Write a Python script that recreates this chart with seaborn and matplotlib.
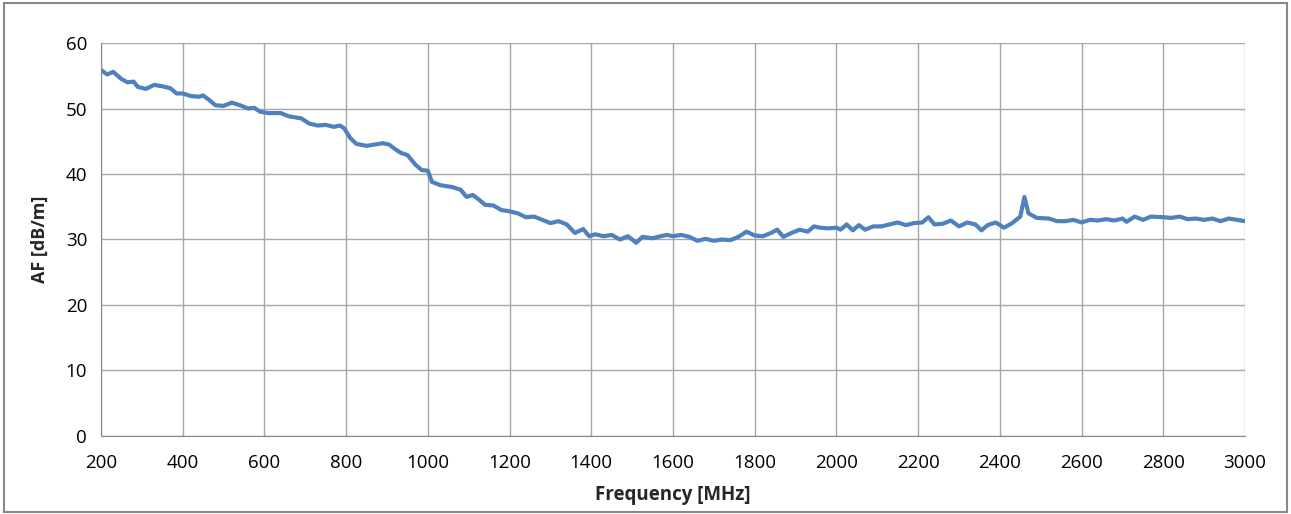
import matplotlib.pyplot as plt
import seaborn as sns
import pandas as pd
from matplotlib.patches import Rectangle

# Antenna factor readings (MHz, dB/m)
freq_mhz = [200, 215, 230, 250, 265, 280, 290, 310, 330, 350, 370, 385, 400, 420, 440, 450,
            465, 480, 500, 520, 540, 560, 575, 590, 610, 640, 660, 690, 710, 730, 750, 770,
            785, 795, 810, 825, 850, 870, 890, 905, 920, 935, 950, 970, 985, 1000, 1010, 1030,
            1060, 1080, 1095, 1110, 1125, 1140, 1160, 1180, 1200, 1220, 1240, 1260, 1280, 1300,
            1320, 1340, 1360, 1380, 1395, 1410, 1430, 1450, 1470, 1490, 1510, 1525, 1550, 1570,
            1585, 1600, 1620, 1640, 1660, 1680, 1700, 1720, 1740, 1760, 1780, 1800, 1820, 1840,
            1855, 1870, 1890, 1910, 1930, 1945, 1960, 1980, 2000, 2010, 2025, 2040, 2055, 2070,
            2090, 2110, 2130, 2150, 2170, 2190, 2210, 2225, 2240, 2260, 2280, 2300, 2320, 2340,
            2355, 2370, 2390, 2410, 2430, 2450, 2460, 2470, 2490, 2520, 2540, 2560, 2580, 2600,
            2620, 2640, 2660, 2680, 2700, 2710, 2730, 2750, 2770, 2800, 2820, 2840, 2860, 2880,
            2900, 2920, 2940, 2960, 2980, 3000]
af_db = [55.9, 55.2, 55.6, 54.5, 54.0, 54.1, 53.3, 53.0, 53.6, 53.4, 53.1, 52.3, 52.3, 51.9, 51.8, 52.0,
         51.3, 50.5, 50.4, 50.9, 50.5, 50.0, 50.1, 49.5, 49.3, 49.3, 48.8, 48.5, 47.7, 47.4, 47.5, 47.2,
         47.4, 47.0, 45.5, 44.6, 44.3, 44.5, 44.7, 44.5, 43.8, 43.2, 42.9, 41.4, 40.6, 40.5, 38.8, 38.3,
         38.0, 37.6, 36.5, 36.8, 36.1, 35.3, 35.2, 34.5, 34.3, 34.0, 33.4, 33.5, 33.0, 32.5,
         32.8, 32.3, 31.0, 31.6, 30.5, 30.8, 30.5, 30.7, 30.0, 30.5, 29.5, 30.4, 30.2, 30.5,
         30.7, 30.5, 30.7, 30.4, 29.8, 30.1, 29.8, 30.0, 29.9, 30.4, 31.2, 30.6, 30.5, 31.0,
         31.5, 30.4, 31.0, 31.5, 31.2, 32.0, 31.8, 31.7, 31.8, 31.5, 32.3, 31.4, 32.2, 31.5,
         32.0, 32.0, 32.3, 32.6, 32.2, 32.5, 32.6, 33.4, 32.3, 32.4, 32.9, 32.0, 32.6, 32.3,
         31.4, 32.2, 32.6, 31.8, 32.5, 33.5, 36.5, 34.0, 33.3, 33.2, 32.8, 32.8, 33.0, 32.6,
         33.0, 32.9, 33.1, 32.9, 33.2, 32.7, 33.5, 33.0, 33.5, 33.4, 33.3, 33.5, 33.1, 33.2,
         33.0, 33.2, 32.8, 33.2, 33.0, 32.8]
x_ticks = list(range(200, 3001, 200))
y_ticks = list(range(0, 61, 10))

df = pd.DataFrame({'freq': freq_mhz, 'af': af_db})

sns.set_style('white')
plt.rcParams['font.family'] = ['Open Sans', 'DejaVu Sans']

fig = plt.figure(figsize=(12.91, 5.14), dpi=100)
ax = fig.add_axes([0.0782, 0.1518, 0.8862, 0.7645])

sns.lineplot(data=df, x='freq', y='af', ax=ax, color='#4F81BD', linewidth=3.0)

ax.set_xlim(200, 3000)
ax.set_ylim(0, 60)
ax.set_xticks(x_ticks)
ax.set_yticks(y_ticks)
ax.grid(True, color='#A6A6A6', linewidth=1.0)
ax.tick_params(axis='both', labelsize=13.5, colors='#000000', length=5,
               width=1, direction='out', pad=5, color='#888888')
ax.tick_params(axis='x', pad=8)
for side in ['top', 'right']:
    ax.spines[side].set_visible(False)
for side in ['left', 'bottom']:
    ax.spines[side].set_color('#888888')
ax.set_xlabel('Frequency [MHz]', fontsize=13.5, fontweight='bold', labelpad=9)
ax.set_ylabel('AF [dB/m]', fontsize=13, fontweight='bold', labelpad=12)

# outer chart frame
fig.patches.append(Rectangle((0.003, 0.003), 0.994, 0.992, transform=fig.transFigure,
                             fill=False, edgecolor='#888888', linewidth=1.5))

fig.savefig('out.png', dpi=100)
